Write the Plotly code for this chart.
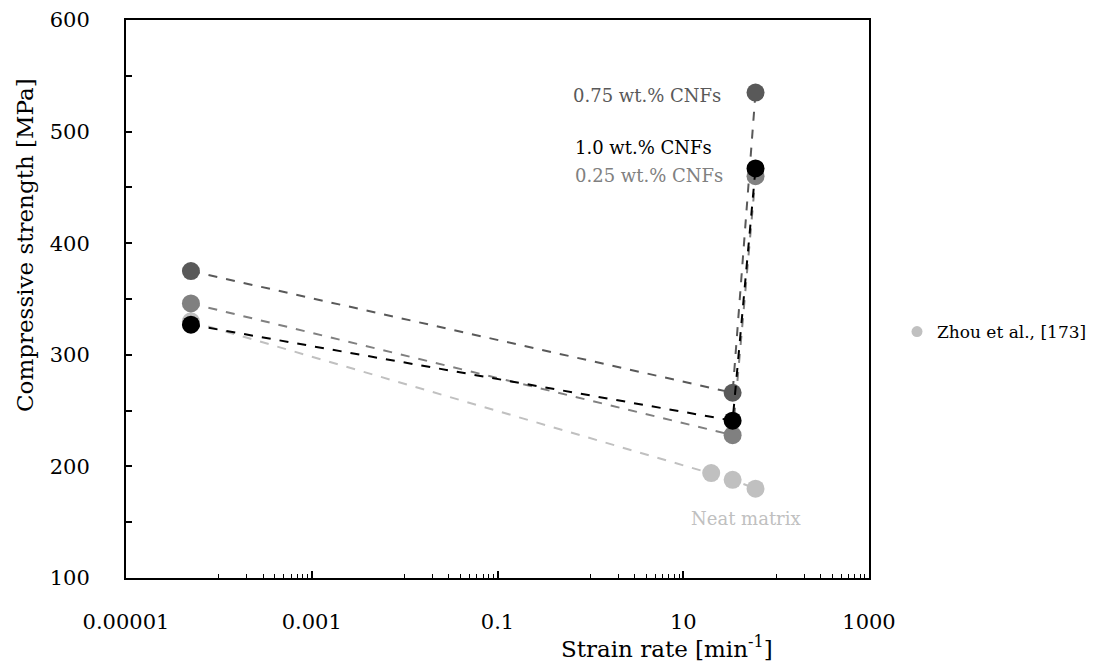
import plotly.graph_objects as go

# Data (strain rate [1/min], compressive strength [MPa])
neat_x = [5e-5, 20, 34, 60]
neat_y = [330, 194, 188, 180]
cnf025_x = [5e-5, 34, 60]
cnf025_y = [346, 228, 460]
cnf075_x = [5e-5, 34, 60]
cnf075_y = [375, 266, 535]
cnf10_x = [5e-5, 34, 60]
cnf10_y = [327, 241, 467]

major_ticks = [1e-5, 1e-3, 1e-1, 10, 1000]
major_labels = ["0.00001", "0.001", "0.1", "10", "1000"]
minor_x = [m * d for d in [1e-4, 1e-2, 1, 100] for m in range(1, 10)]

FONT = "DejaVu Serif"

fig = go.Figure()

series = [
    (neat_x, neat_y, "#c0c0c0"),
    (cnf025_x, cnf025_y, "#808080"),
    (cnf075_x, cnf075_y, "#595959"),
    (cnf10_x, cnf10_y, "#000000"),
]
for xs, ys, col in series:
    fig.add_trace(go.Scatter(
        x=xs, y=ys, mode="lines+markers",
        line=dict(color=col, width=2, dash="dash"),
        marker=dict(color=col, size=18),
        showlegend=False, hoverinfo="skip"))

fig.add_trace(go.Scatter(
    x=[None], y=[None], mode="markers",
    marker=dict(color="#c0c0c0", size=11),
    name="Zhou et al., [173]", showlegend=True))

fig.update_xaxes(
    type="log", range=[-5, 3], automargin=False,
    tickvals=major_ticks, ticktext=major_labels,
    ticks="inside", ticklen=7, tickwidth=1.5, tickcolor="black",
    minor=dict(tickvals=minor_x, ticks="inside", ticklen=4, tickwidth=1.2, tickcolor="black"),
    showline=True, linecolor="black", linewidth=2, mirror=True,
    showgrid=False, zeroline=False,
    ticklabelstandoff=24,
    tickfont=dict(family=FONT, size=21, color="black"),
)
fig.update_yaxes(
    range=[100, 600], dtick=100, automargin=False,
    ticks="inside", ticklen=6, tickwidth=1.5, tickcolor="black",
    minor=dict(dtick=50, ticks="inside", ticklen=6, tickwidth=1.5, tickcolor="black"),
    showline=True, linecolor="black", linewidth=2, mirror=True,
    showgrid=False, zeroline=False,
    ticklabelstandoff=30,
    tickfont=dict(family=FONT, size=21, color="black"),
)

annots = [
    ("0.75 wt.% CNFs", 723, 95, "#595959"),
    ("1.0 wt.% CNFs", 714, 147, "#000000"),
    ("0.25 wt.% CNFs", 725, 175, "#808080"),
]
for txt, xr, yc, col in annots:
    fig.add_annotation(text=txt, xref="paper", yref="paper",
                       x=(xr - 126) / 743, y=(578 - yc) / 558,
                       xanchor="right", yanchor="middle", showarrow=False,
                       font=dict(family=FONT, size=18, color=col))
fig.add_annotation(text="Neat matrix", xref="paper", yref="paper",
                   x=(746 - 126) / 743, y=(578 - 518) / 558,
                   xanchor="center", yanchor="middle", showarrow=False,
                   font=dict(family=FONT, size=18, color="#c0c0c0"))
fig.add_annotation(text="Strain rate [min<sup>-1</sup>]", xref="paper", yref="paper",
                   x=(667 - 126) / 743, y=(578 - 647) / 558,
                   xanchor="center", yanchor="middle", showarrow=False,
                   font=dict(family=FONT, size=23, color="black"))
fig.add_annotation(text="Compressive strength [MPa]", xref="paper", yref="paper",
                   x=(25 - 126) / 743, y=(578 - 245) / 558, textangle=-90,
                   xanchor="center", yanchor="middle", showarrow=False,
                   font=dict(family=FONT, size=23, color="black"))

fig.update_layout(
    width=1103, height=664,
    margin=dict(l=126, r=234, t=20, b=86, autoexpand=False),
    plot_bgcolor="white", paper_bgcolor="white",
    legend=dict(x=(897 - 126) / 743, y=(578 - 332) / 558, xanchor="left", yanchor="middle",
                font=dict(family=FONT, size=17, color="black"),
                bgcolor="rgba(0,0,0,0)"),
)

fig.write_html("out.html")
